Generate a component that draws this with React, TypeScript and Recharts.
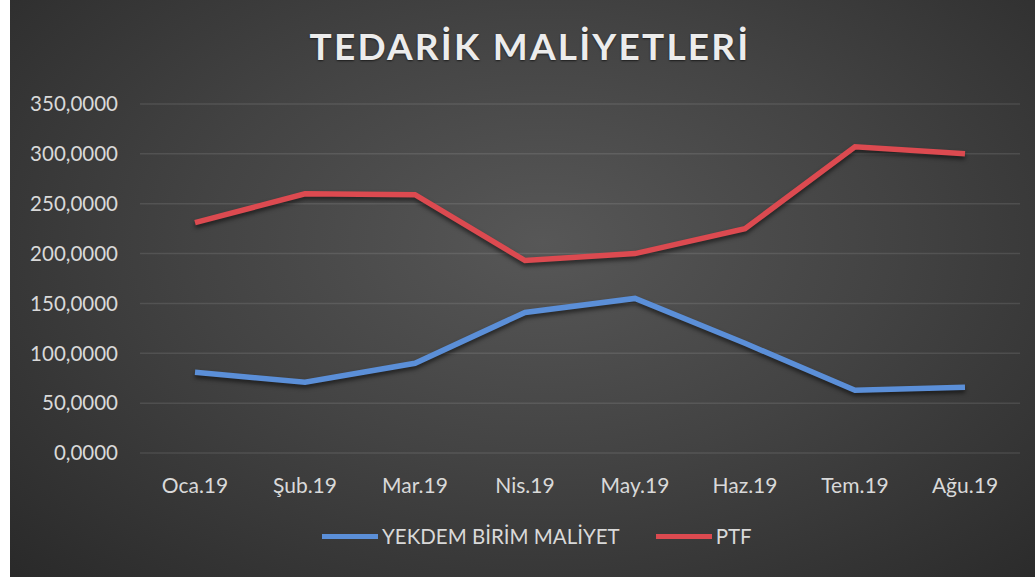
import { LineChart, Line, XAxis, YAxis, CartesianGrid } from 'recharts';

const months = ['Oca.19', 'Şub.19', 'Mar.19', 'Nis.19', 'May.19', 'Haz.19', 'Tem.19', 'Ağu.19'];
const yekdem = [81, 71, 90, 141, 155, 110, 63, 66];
const ptf = [231, 260, 259, 193, 200, 225, 307, 300];
const yTicks = [0, 50, 100, 150, 200, 250, 300, 350];

const series = [
  { key: 'yekdem', name: 'YEKDEM BİRİM MALİYET', color: '#5b8fd8' },
  { key: 'ptf', name: 'PTF', color: '#dc4a50' },
];

const data = months.map((m, i) => ({ month: m, yekdem: yekdem[i], ptf: ptf[i] }));

const fmt = (v: number) => v.toFixed(4).replace('.', ',');

const FONT = 'Lato, "Open Sans", sans-serif';

export default function App() {
  return (
    <div
      style={{
        position: 'absolute',
        left: 10,
        top: 0,
        width: 1025,
        height: 577,
        background: 'radial-gradient(ellipse 75% 85% at 52% 42%, #575757 0%, #434343 45%, #282828 100%)',
        fontFamily: FONT,
        overflow: 'hidden',
      }}
    >
      <style>{`.recharts-line-curve { filter: drop-shadow(0px 3px 2px rgba(0,0,0,0.55)); }`}</style>
      <div
        style={{
          position: 'absolute',
          top: 23,
          left: 0,
          width: 1040,
          textAlign: 'center',
          color: '#ececec',
          fontSize: 37,
          fontWeight: 700,
          letterSpacing: 2.2,
          textShadow: '0 1px 2px rgba(0,0,0,0.6)',
        }}
      >
        TEDARİK MALİYETLERİ
      </div>
      <LineChart width={1025} height={577} data={data} margin={{ top: 104, right: 15, left: 0, bottom: 84 }}>
        <CartesianGrid vertical={false} stroke="rgba(255,255,255,0.1)" strokeWidth={1.5} />
        <XAxis
          dataKey="month"
          axisLine={false}
          tickLine={false}
          padding={{ left: 55, right: 55 }}
          tickMargin={19}
          height={40}
          tick={{ fill: '#d9d9d9', fontSize: 21, fontFamily: FONT }}
        />
        <YAxis
          domain={[0, 350]}
          ticks={yTicks}
          tickFormatter={fmt}
          axisLine={false}
          tickLine={false}
          width={130}
          tickMargin={16}
          tick={{ fill: '#d9d9d9', fontSize: 20.5, fontFamily: FONT }}
        />
        {series.map(s => (
          <Line
            key={s.key}
            dataKey={s.key}
            name={s.name}
            type="linear"
            stroke={s.color}
            strokeWidth={5.5}
            dot={false}
            activeDot={false}
            isAnimationActive={false}
          />
        ))}
      </LineChart>
      <div
        style={{
          position: 'absolute',
          top: 524,
          left: 312,
          display: 'flex',
          alignItems: 'center',
          color: '#d9d9d9',
          fontSize: 20.5,
        }}
      >
        {series.map((s, i) => (
          <div key={s.key} style={{ display: 'flex', alignItems: 'center', marginRight: i === 0 ? 36 : 0 }}>
            <span style={{ display: 'inline-block', width: 56, height: 5, background: s.color, marginRight: 4 }} />
            <span>{s.name}</span>
          </div>
        ))}
      </div>
    </div>
  );
}
